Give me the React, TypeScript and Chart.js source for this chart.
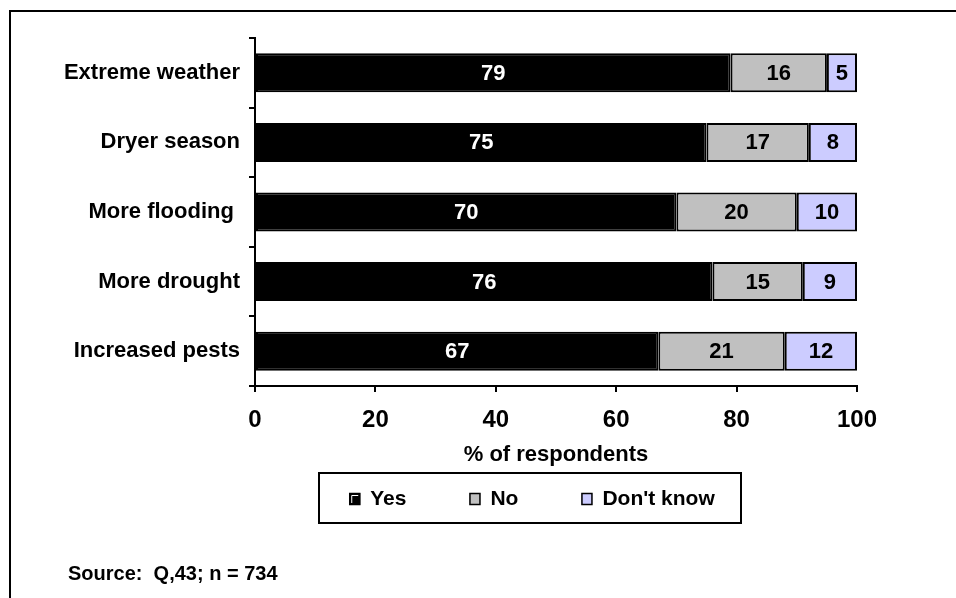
import React, { useEffect, useRef } from "react";
import { Chart, registerables } from "chart.js";

Chart.register(...registerables);

const categories = ["Extreme weather", "Dryer season", "More flooding ", "More drought", "Increased pests"];
const yesValues = [79, 75, 70, 76, 67];
const noValues = [16, 17, 20, 15, 21];
const dontKnowValues = [5, 8, 10, 9, 12];
const seriesNames = ["Yes", "No", "Don't know"];
const seriesColors = ["#000000", "#C0C0C0", "#CCCCFF"];
const labelColors = ["#FFFFFF", "#000000", "#000000"];
const axisTitle = "% of respondents";
const sourceNote = "Source:  Q,43; n = 734";

const FONT = "'Liberation Sans', Arial, Helvetica, sans-serif";

const valueLabels = {
  id: "valueLabels",
  afterDatasetsDraw(chart: any) {
    const ctx = chart.ctx;
    ctx.save();
    ctx.font = `bold 22px ${FONT}`;
    ctx.textAlign = "center";
    ctx.textBaseline = "middle";
    chart.data.datasets.forEach((ds: any, i: number) => {
      const meta = chart.getDatasetMeta(i);
      meta.data.forEach((bar: any, j: number) => {
        const v = ds.data[j];
        ctx.fillStyle = labelColors[i];
        ctx.fillText(String(v), (bar.x + bar.base) / 2, bar.y + 1);
      });
    });
    ctx.restore();
  },
};

const decorations = {
  id: "decorations",
  afterDraw(chart: any) {
    const ctx = chart.ctx;
    ctx.save();
    // outer frame (cropped at right and bottom)
    ctx.strokeStyle = "#000";
    ctx.lineWidth = 2;
    ctx.strokeRect(10, 11, 1200, 1000);

    // legend box
    const bx = 319, by = 473, bw = 422, bh = 50;
    ctx.strokeRect(bx, by, bw, bh);
    ctx.font = `bold 21px ${FONT}`;
    ctx.textBaseline = "middle";
    ctx.textAlign = "left";
    const marker = 11, gapText = 10, gapItem = 63;
    const widths = seriesNames.map((n) => ctx.measureText(n).width);
    const total = widths.reduce((a, w) => a + marker + gapText + w, 0) + gapItem * (seriesNames.length - 1);
    let x = bx + (bw - total) / 2 + 2;
    const cy = by + bh / 2 + 1;
    chart.data.datasets.forEach((ds: any, i: number) => {
      ctx.fillStyle = ds.backgroundColor;
      ctx.fillRect(x, cy - 6, marker, marker + 1);
      ctx.lineWidth = 1.5;
      ctx.strokeStyle = "#000";
      ctx.strokeRect(x + 0.5, cy - 5.5, marker - 1, marker);
      if (i === 0) {
        ctx.strokeStyle = "#fff";
        ctx.lineWidth = 1;
        ctx.beginPath();
        ctx.moveTo(x + 2.5, cy + 4);
        ctx.lineTo(x + 2.5, cy - 3.5);
        ctx.lineTo(x + marker - 2, cy - 3.5);
        ctx.stroke();
      }
      ctx.fillStyle = "#000";
      ctx.fillText(ds.label, x + marker + gapText, cy);
      x += marker + gapText + widths[i] + gapItem;
    });

    // source note
    ctx.font = `bold 20px ${FONT}`;
    ctx.fillStyle = "#000";
    ctx.fillText(sourceNote, 68, 574);
    ctx.restore();
  },
};

export default function App() {
  const ref = useRef<HTMLCanvasElement>(null);
  useEffect(() => {
    if (!ref.current) return;
    const chart = new Chart(ref.current, {
      type: "bar",
      data: {
        labels: categories,
        datasets: [yesValues, noValues, dontKnowValues].map((vals, i) => ({
          label: seriesNames[i],
          data: vals,
          backgroundColor: seriesColors[i],
          borderColor: "#000000",
          borderWidth: 2,
          borderSkipped: false,
          barPercentage: 0.56,
          categoryPercentage: 1,
        })),
      },
      options: {
        indexAxis: "y",
        responsive: false,
        animation: false,
        devicePixelRatio: 1,
        layout: { padding: { top: 38, right: 99, left: 0, bottom: 0 } },
        plugins: {
          legend: { display: false },
          tooltip: { enabled: false },
          title: { display: false },
        },
        scales: {
          x: {
            stacked: true,
            min: 0,
            max: 100,
            ticks: {
              stepSize: 20,
              color: "#000",
              font: { family: FONT, size: 24, weight: "bold" },
              padding: 14,
            },
            grid: { drawOnChartArea: false, drawTicks: true, tickLength: 6, color: "#000", lineWidth: 2 },
            border: { display: true, color: "#000", width: 2 },
            title: {
              display: true,
              text: axisTitle,
              color: "#000",
              font: { family: FONT, size: 22, weight: "bold" },
              padding: { top: 0, bottom: 130 },
            },
            afterFit: (s: any) => {
              s.height = 212;
            },
          },
          y: {
            stacked: true,
            ticks: {
              color: "#000",
              font: { family: FONT, size: 22, weight: "bold" },
              padding: 9,
            },
            grid: { drawOnChartArea: false, drawTicks: true, tickLength: 6, color: "#000", lineWidth: 2, offset: true },
            border: { display: true, color: "#000", width: 2 },
            afterFit: (s: any) => {
              s.width = 255;
            },
          },
        },
      } as any,
      plugins: [valueLabels, decorations],
    });
    return () => chart.destroy();
  }, []);
  return (
    <div style={{ position: "absolute", left: 0, top: 0, width: 956, height: 598, background: "#fff" }}>
      <canvas ref={ref} width={956} height={598} style={{ display: "block", width: 956, height: 598 }} />
    </div>
  );
}
